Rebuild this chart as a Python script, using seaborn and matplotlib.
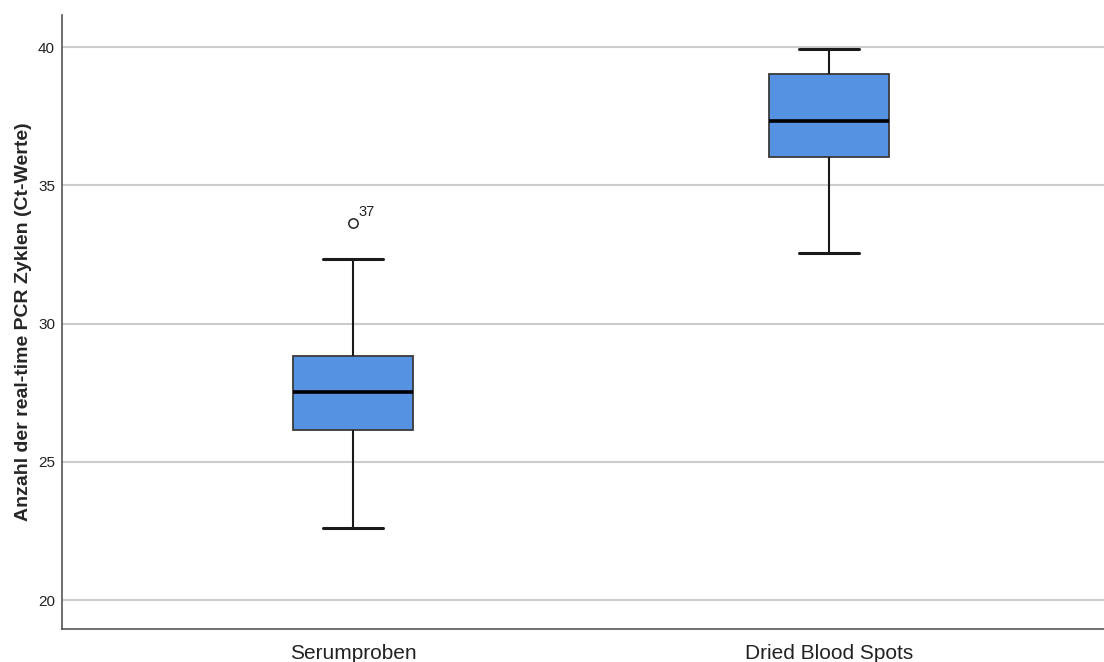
import pandas as pd
import matplotlib
matplotlib.use("Agg")
import matplotlib.pyplot as plt
import seaborn as sns

gruppen = ["Serumproben", "Dried Blood Spots"]
serum = [22.6, 26.15, 26.15, 27.52, 27.52, 28.84, 28.84, 32.33, 33.63]
dbs = [32.54, 36.03, 37.33, 39.03, 39.93]
ausreisser_label = "37"
ausreisser_wert = 33.63
y_ticks = [20, 25, 30, 35, 40]

df = pd.DataFrame({
    "Gruppe": [gruppen[0]] * len(serum) + [gruppen[1]] * len(dbs),
    "Ct": serum + dbs,
})

sns.set_style("white")
plt.rcParams["font.family"] = ["Liberation Sans", "DejaVu Sans"]

fig = plt.figure(figsize=(11.04, 6.62), dpi=100)
ax = fig.add_axes([0.0562, 0.0498, 0.9438, 0.9275])

sns.boxplot(data=df, x="Gruppe", y="Ct", order=gruppen, ax=ax,
            color="#5592E1", saturation=1, width=0.252,
            boxprops=dict(edgecolor="#3a3a3a", linewidth=1.3),
            medianprops=dict(color="black", linewidth=2.6),
            whiskerprops=dict(color="#1a1a1a", linewidth=1.5),
            capprops=dict(color="#1a1a1a", linewidth=2.2),
            flierprops=dict(marker="o", markerfacecolor="none",
                            markeredgecolor="#222222", markersize=6.7,
                            markeredgewidth=1.1))

ax.annotate(ausreisser_label, (0, ausreisser_wert), xytext=(4, 5),
            textcoords="offset points", fontsize=10.5, color="#222222")

ax.set_xlim(-0.611, 1.578)
ax.set_ylim(18.95, 41.16)
ax.set_yticks(y_ticks)
ax.yaxis.grid(True, color="#cccccc", linewidth=1.5)
ax.set_axisbelow(True)

ax.set_xlabel("")
ax.set_ylabel("Anzahl der real-time PCR Zyklen (Ct-Werte)", fontsize=14,
              fontweight="bold")
ax.yaxis.set_label_coords(-0.029, 0.5)
ax.tick_params(axis="y", length=0, pad=5, labelsize=11, labelcolor="#222222")
ax.tick_params(axis="x", length=0, pad=10.5, labelsize=15, labelcolor="#222222")

for s in ["top", "right"]:
    ax.spines[s].set_visible(False)
for s in ["left", "bottom"]:
    ax.spines[s].set_color("#555555")
    ax.spines[s].set_linewidth(1.2)

plt.savefig("out.png", dpi=100)
